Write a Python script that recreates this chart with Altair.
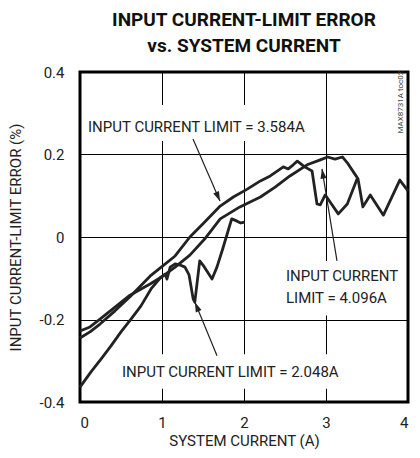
import altair as alt
import pandas as pd

# ---- data ----
x_2048 = [0.0, 0.134, 0.256, 0.378, 0.5, 0.622, 0.744, 0.866, 0.988, 1.037, 1.06, 1.10, 1.16, 1.22, 1.28,
          1.33, 1.38, 1.40, 1.46, 1.50, 1.61, 1.67, 1.74, 1.85, 1.91, 1.96, 2.01]
y_2048 = [-0.364, -0.327, -0.296, -0.264, -0.230, -0.199, -0.167, -0.126, -0.097, -0.090, -0.102, -0.073,
          -0.065, -0.068, -0.073, -0.092, -0.150, -0.158, -0.058, -0.068, -0.102, -0.073, -0.029, 0.044,
          0.039, 0.034, 0.036]

x_3584 = [0.0, 0.122, 0.244, 0.427, 0.61, 0.854, 1.01, 1.16, 1.34, 1.50, 1.71, 1.87, 2.04, 2.20, 2.32,
          2.48, 2.54, 2.60, 2.65, 2.74, 2.83, 2.89, 2.93, 2.99, 3.05, 3.15, 3.26, 3.38]
y_3584 = [-0.245, -0.230, -0.211, -0.179, -0.145, -0.095, -0.070, -0.046, 0.0, 0.032, 0.075, 0.097, 0.116,
          0.136, 0.148, 0.170, 0.165, 0.175, 0.184, 0.170, 0.160, 0.080, 0.078, 0.102, 0.085, 0.056, 0.080,
          0.141]

x_4096 = [0.0, 0.122, 0.244, 0.427, 0.61, 0.854, 1.01, 1.16, 1.34, 1.52, 1.71, 1.95, 2.20, 2.38, 2.56,
          2.77, 2.93, 3.02, 3.11, 3.20, 3.27, 3.35, 3.39, 3.45, 3.54, 3.70, 3.90, 4.0]
y_4096 = [-0.228, -0.218, -0.199, -0.170, -0.141, -0.114, -0.095, -0.073, -0.044, -0.005, 0.044, 0.073,
          0.097, 0.121, 0.148, 0.175, 0.187, 0.194, 0.189, 0.194, 0.177, 0.153, 0.141, 0.073, 0.102, 0.053,
          0.138, 0.112]

x_ticks = [0, 1, 2, 3, 4]
y_ticks = [-0.4, -0.2, 0, 0.2, 0.4]

label_text = ["INPUT CURRENT LIMIT = 3.584A", "INPUT CURRENT", "LIMIT = 4.096A", "INPUT CURRENT LIMIT = 2.048A"]
label_x = [0.098, 2.512, 2.512, 0.512]
label_y = [0.267, -0.0945, -0.148, -0.327]

box_x = [0.05, 2.46, 0.46]
box_x2 = [2.78, 3.92, 3.13]
box_y = [0.32, -0.058, -0.284]
box_y2 = [0.233, -0.19, -0.368]

arrow_x = [1.378, 3.134, 1.671]
arrow_y = [0.2376, -0.058, -0.288]
arrow_tx = [1.707, 2.951, 1.402]
arrow_ty = [0.087, 0.165, -0.158]
arrow_angle = [156.5, 350.7, 337.8]

FONT = "Roboto"
INK = "#222222"

rows = []
for name, xs, ys in [("2.048A", x_2048, y_2048), ("3.584A", x_3584, y_3584), ("4.096A", x_4096, y_4096)]:
    for i, (a, b) in enumerate(zip(xs, ys)):
        rows.append({"series": name, "i": i, "x": a, "y": b})
curves = pd.DataFrame(rows)

labels = pd.DataFrame({"x": label_x, "y": label_y, "text": label_text})
boxes = pd.DataFrame({"x": box_x, "x2": box_x2, "y": box_y, "y2": box_y2})
arrows = pd.DataFrame({"x": arrow_x, "y": arrow_y, "tx": arrow_tx, "ty": arrow_ty, "angle": arrow_angle})
mark = pd.DataFrame({"x": [3.92], "y": [0.327], "text": ["MAX8731A toc02"]})

xs = alt.Scale(domain=[0, 4], nice=False)
ys = alt.Scale(domain=[-0.4, 0.4], nice=False)

x_axis = alt.Axis(values=x_ticks, format="d", title="SYSTEM CURRENT (A)", ticks=False, domain=False,
                  labelPadding=13, titlePadding=3)
y_axis = alt.Axis(values=y_ticks, labelExpr="'' + datum.value", title="INPUT CURRENT-LIMIT ERROR (%)",
                  ticks=False, domain=False, labelPadding=16, titlePadding=16)

base = alt.Chart(curves)

box_layer = alt.Chart(boxes).mark_rect(fill="white").encode(
    x=alt.X("x:Q", scale=xs, axis=x_axis), x2="x2", y=alt.Y("y:Q", scale=ys, axis=y_axis), y2="y2")

line_layer = base.mark_line(color=INK, strokeWidth=2.8, strokeJoin="round").encode(
    x=alt.X("x:Q", scale=xs), y=alt.Y("y:Q", scale=ys), detail="series:N", order="i:Q")

rule_layer = alt.Chart(arrows).mark_rule(color=INK, strokeWidth=1.2).encode(
    x=alt.X("x:Q", scale=xs), y=alt.Y("y:Q", scale=ys), x2="tx", y2="ty")

head_layer = alt.Chart(arrows).mark_point(
    shape="M0,0L-0.32,1L0.32,1Z", filled=True, color=INK, opacity=1, size=380).encode(
    x=alt.X("tx:Q", scale=xs), y=alt.Y("ty:Q", scale=ys), angle=alt.Angle("angle:Q", scale=None))

text_layer = alt.Chart(labels).mark_text(
    align="left", baseline="middle", font=FONT, fontSize=15, color=INK).encode(
    x=alt.X("x:Q", scale=xs), y=alt.Y("y:Q", scale=ys), text="text:N")

mark_layer = alt.Chart(mark).mark_text(
    align="center", baseline="middle", font=FONT, fontSize=8, angle=270, color="#444444").encode(
    x=alt.X("x:Q", scale=xs), y=alt.Y("y:Q", scale=ys), text="text:N")

chart = alt.layer(box_layer, line_layer, rule_layer, head_layer, text_layer, mark_layer).properties(
    width=328, height=330,
    title=alt.TitleParams(["INPUT CURRENT-LIMIT ERROR", "vs. SYSTEM CURRENT"], font=FONT, fontSize=19,
                          fontWeight="bold", lineHeight=26, offset=9, anchor="middle", color="#111111"),
    autosize=alt.AutoSizeParams(type="none"),
    padding={"left": 72, "top": 64, "right": 4, "bottom": 48},
).configure_view(stroke="black", strokeWidth=3).configure_axis(
    grid=True, gridColor="black", gridWidth=1, gridOpacity=1,
    labelFont=FONT, labelFontSize=15, labelColor=INK,
    titleFont=FONT, titleFontSize=15, titleFontWeight="normal", titleColor=INK,
)

chart.save("out.html", embed_options={"renderer": "svg", "actions": False})
